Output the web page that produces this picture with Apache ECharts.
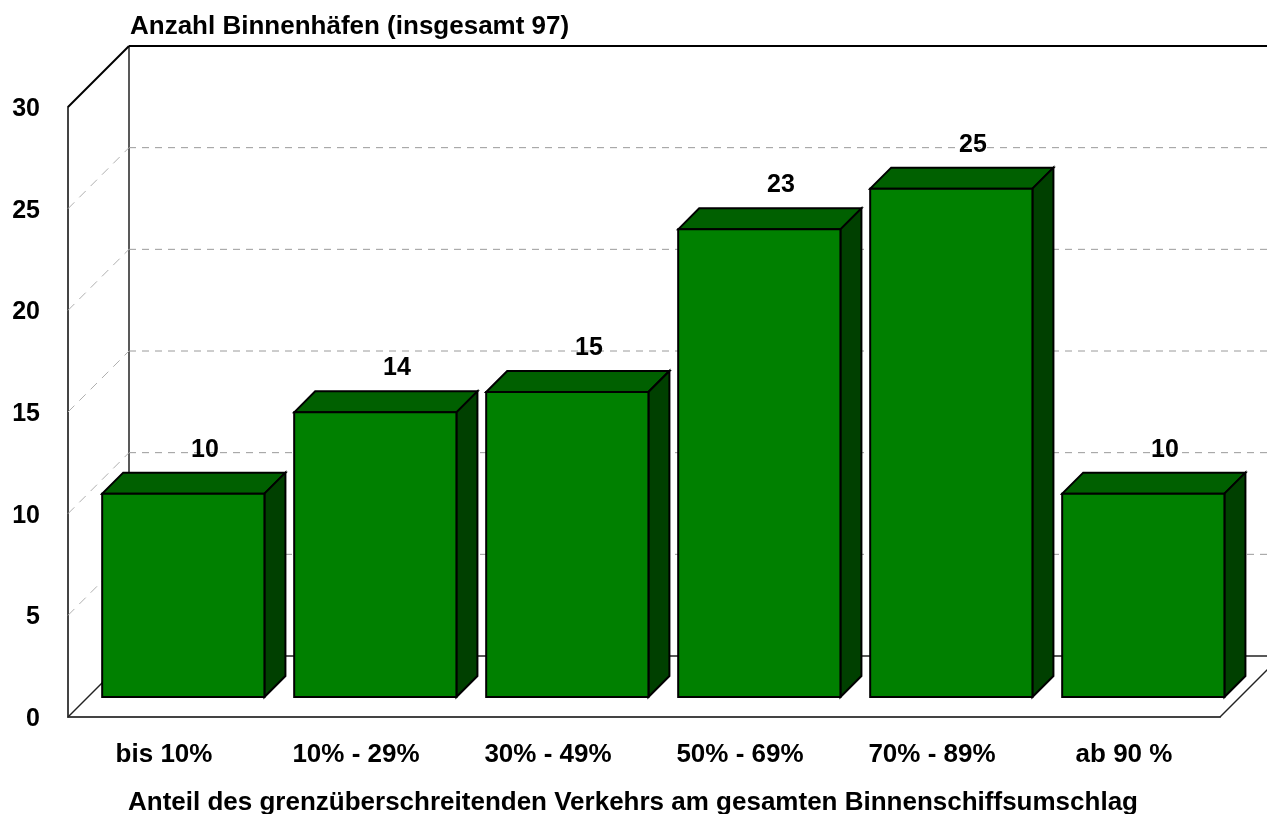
<!DOCTYPE html>
<html>
<head>
<meta charset="utf-8">
<title>Binnenhäfen</title>
<script src="https://cdn.jsdelivr.net/npm/echarts@6/dist/echarts.min.js"></script>
<style>
	html, body { margin: 0; padding: 0; background: #fff; }
	#main { width: 1267px; height: 814px; }
</style>
</head>
<body>
<div id="main"></div>
<script>
var categories = ['bis 10%', '10% - 29%', '30% - 49%', '50% - 69%', '70% - 89%', 'ab 90 %'];
var values = [10, 14, 15, 23, 25, 10];
var yTicks = [0, 5, 10, 15, 20, 25, 30];
var yTitle = 'Anzahl Binnenhäfen (insgesamt 97)';
var xTitle = 'Anteil des grenzüberschreitenden Verkehrs am gesamten Binnenschiffsumschlag';

var font = '"Liberation Sans", Arial, sans-serif';
var wallDepth = 61;   // offset of the back wall from the front plane
var barShiftX = 19.3; // bars stand this far behind the front plane
var barShiftY = 20;
var barDepth = 21;

var myChart = echarts.init(document.getElementById('main'), null, { renderer: 'canvas' });

function line(x1, y1, x2, y2, color, width, dash) {
	return {
		type: 'line',
		shape: { x1: x1, y1: y1, x2: x2, y2: y2 },
		style: { stroke: color, lineWidth: width, lineDash: dash || null }
	};
}

function face(points, color) {
	return {
		type: 'polygon',
		shape: { points: points },
		style: { fill: color, stroke: '#000', lineWidth: 2, lineJoin: 'miter' }
	};
}

// walls and floor, one item per y tick
function renderWall(params, api) {
	var grid = params.coordSys;
	var y = api.coord([0, api.value(0)])[1];
	var left = grid.x, right = grid.x + grid.width;
	var backX = left + wallDepth, backY = y - wallDepth;
	var val = api.value(0);
	var items = [];
	if (val === 0) {
		items.push(line(left, y, backX, backY, '#222', 1.5));
		items.push(line(backX, backY, right + wallDepth, backY, '#222', 1.5));
		items.push(line(right, y, right + wallDepth, backY, '#222', 1.5));
		items.push(line(backX, backY, backX, grid.y - wallDepth, '#222', 1.5));
	} else if (val === yTicks[yTicks.length - 1]) {
		items.push(line(left, y, backX, backY, '#000', 2));
		items.push(line(backX, backY, right + wallDepth, backY, '#000', 2));
	} else {
		items.push(line(left, y, backX, backY, '#b0b0b0', 1, [9, 7]));
		items.push(line(backX, backY, right + wallDepth, backY, '#9a9a9a', 1, [7, 6]));
	}
	return { type: 'group', children: items };
}

// one box per category: front, top and side face plus value label
function renderBar(params, api) {
	var i = api.value(0), val = api.value(1);
	var top = api.coord([i, val]);
	var base = api.coord([i, 0]);
	var w = api.size([1, 0])[0] * 0.845;
	var x0 = top[0] + barShiftX - w / 2;
	var x1 = x0 + w;
	var yTop = top[1] - barShiftY;
	var yBase = base[1] - barShiftY;
	return {
		type: 'group',
		children: [
			face([[x0, yTop], [x0 + barDepth, yTop - barDepth], [x1 + barDepth, yTop - barDepth], [x1, yTop]], '#006000'),
			face([[x1, yTop], [x1 + barDepth, yTop - barDepth], [x1 + barDepth, yBase - barDepth], [x1, yBase]], '#004000'),
			face([[x0, yTop], [x1, yTop], [x1, yBase], [x0, yBase]], '#008000'),
			{
				type: 'text',
				style: {
					x: (x0 + x1) / 2 + barDepth + 0.7,
					y: yTop - 44,
					text: String(val),
					fill: '#000',
					font: 'bold 25px ' + font,
					textAlign: 'center',
					textVerticalAlign: 'middle'
				}
			}
		]
	};
}

var option = {
	animation: false,
	backgroundColor: '#fff',
	title: [
		{ text: yTitle, left: 130, top: 14, padding: 0, textStyle: { color: '#000', fontFamily: font, fontWeight: 'bold', fontSize: 26 } },
		{ text: xTitle, left: 128, top: 790, padding: 0, textStyle: { color: '#000', fontFamily: font, fontWeight: 'bold', fontSize: 26 } }
	],
	grid: { left: 68, top: 107, width: 1152, height: 610, containLabel: false },
	xAxis: {
		type: 'category',
		data: categories,
		axisTick: { show: false },
		axisLine: { lineStyle: { color: '#444', width: 2 } },
		axisLabel: { color: '#000', fontFamily: font, fontWeight: 'bold', fontSize: 26, margin: 25, interval: 0 }
	},
	yAxis: {
		type: 'value',
		min: 0,
		max: 30,
		interval: 5,
		splitLine: { show: false },
		axisTick: { show: false },
		axisLine: { show: true, lineStyle: { color: '#444', width: 2 } },
		// short line box so the digits sit a little below the tick
		axisLabel: { color: '#000', fontFamily: font, fontWeight: 'bold', fontSize: 25, margin: 28, verticalAlign: 'top', lineHeight: 4 }
	},
	series: [
		{
			type: 'custom',
			silent: true,
			renderItem: renderWall,
			encode: { y: 0 },
			data: yTicks.map(function (t) { return [t]; }),
			z: 1
		},
		{
			type: 'custom',
			silent: true,
			renderItem: renderBar,
			encode: { x: 0, y: 1 },
			data: values.map(function (v, i) { return [i, v]; }),
			z: 2
		}
	]
};

myChart.setOption(option);
</script>
</body>
</html>
